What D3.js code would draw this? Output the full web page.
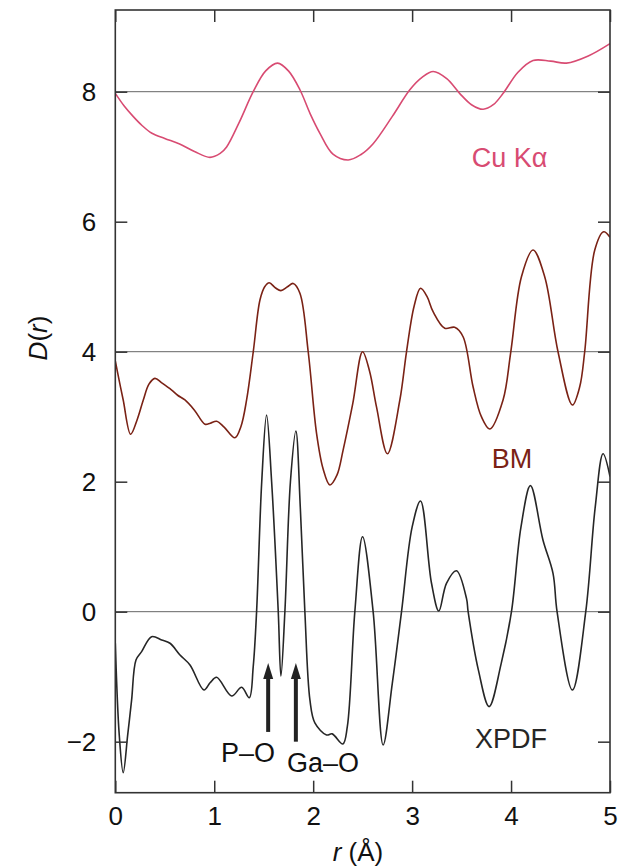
<!DOCTYPE html>
<html><head><meta charset="utf-8">
<script src="https://cdn.jsdelivr.net/npm/d3@7"></script>
<style>body{margin:0;background:#fff}svg{display:block;font-family:"Liberation Sans",Arial,Helvetica,sans-serif}</style>
</head><body><svg id="c" width="624" height="866"></svg>
<script>
// r (Å) and D(r) for each trace
const cuR = [0,0.09,0.18,0.27,0.37,0.5,0.65,0.8,0.957,1.06,1.125,1.25,1.394,1.52,1.64,1.75,1.866,1.97,2.068,2.2,2.354,2.48,2.606,2.8,2.977,3.1,3.213,3.35,3.48,3.6,3.718,3.82,3.92,4.07,4.222,4.4,4.56,4.78,5.0];
const cuD = [7.975,7.78,7.62,7.48,7.36,7.28,7.195,7.08,6.99,7.05,7.15,7.52,8.0,8.32,8.44,8.32,8.03,7.66,7.36,7.04,6.95,7.03,7.2,7.62,8.03,8.22,8.31,8.2,7.975,7.8,7.73,7.8,7.975,8.3,8.48,8.47,8.44,8.55,8.74];
const bmR = [0,0.04,0.08,0.155,0.22,0.283,0.34,0.40,0.47,0.57,0.63,0.704,0.8,0.906,0.96,1.024,1.1,1.209,1.27,1.327,1.394,1.462,1.51,1.556,1.62,1.674,1.74,1.798,1.866,1.95,2.034,2.1,2.169,2.24,2.303,2.4,2.499,2.57,2.64,2.75,2.876,2.943,3.02,3.085,3.15,3.212,3.33,3.43,3.515,3.616,3.7,3.785,3.919,3.997,4.105,4.222,4.34,4.475,4.62,4.694,4.744,4.846,4.936,5.0];
const bmD = [3.86,3.55,3.257,2.73,2.95,3.257,3.5,3.59,3.52,3.41,3.33,3.257,3.1,2.885,2.9,2.93,2.84,2.675,2.85,3.257,3.995,4.795,5.0,5.06,4.98,4.94,5.0,5.05,4.9,3.995,2.745,2.2,1.95,2.1,2.49,3.2,4.0,3.7,3.15,2.43,3.257,3.995,4.7,4.975,4.85,4.615,4.36,4.375,4.23,3.46,3.0,2.81,3.257,3.995,5.154,5.565,5.154,3.995,3.18,3.46,3.995,5.565,5.846,5.76];
const xpR = [0,0.04,0.08,0.125,0.165,0.209,0.266,0.367,0.469,0.553,0.654,0.755,0.896,0.96,1.024,1.176,1.277,1.354,1.394,1.428,1.48,1.529,1.58,1.647,1.674,1.714,1.77,1.825,1.87,1.916,1.967,2.017,2.135,2.192,2.3,2.345,2.421,2.499,2.606,2.707,2.8,2.893,3.0,3.085,3.196,3.27,3.347,3.448,3.55,3.566,3.67,3.778,3.9,4.004,4.1,4.196,4.323,4.424,4.465,4.62,4.755,4.85,4.93,5.0];
const xpD = [-0.486,-1.9,-2.477,-1.9,-1.358,-0.743,-0.615,-0.385,-0.435,-0.486,-0.666,-0.82,-1.205,-1.09,-1.01,-1.297,-1.163,-1.323,-0.846,0,2.0,3.026,2.0,0,-0.99,0,2.0,2.78,1.6,0,-1.358,-1.71,-1.897,-1.88,-2.035,-1.77,0,1.154,0,-2.05,-1.1,0,1.3,1.703,0.437,0.01,0.437,0.63,0.2,0,-0.9,-1.46,-0.8,0,1.3,1.94,1.10,0.59,0,-1.205,0,1.6,2.43,2.08];
const seriesNames = ["Cu Kα","BM","XPDF"];
const baselines = [8,4,0];
const yTicks = [-2,0,2,4,6,8];
const xTicks = [0,1,2,3,4,5];
const annoNames = ["P–O","Ga–O"];
const annoR = [1.545,1.825];
const annoTip = [-0.79,-0.79];
const annoBase = [-1.85,-2.0];

const svg = d3.select("#c");
const L=115.3,R=610,T=10,B=792.7;
const x = d3.scaleLinear().domain([0,5]).range([L,R]);
const y = d3.scaleLinear().domain([-2.785,9.257]).range([B,T]);
const colors = ["#d84b72","#7a2215","#262626"];

svg.append("defs").append("clipPath").attr("id","clip").append("rect").attr("x",L).attr("y",T).attr("width",R-L).attr("height",B-T);

// baselines
svg.selectAll("line.base").data(baselines).enter().append("line")
  .attr("x1",L).attr("x2",R).attr("y1",d=>y(d)).attr("y2",d=>y(d))
  .attr("stroke","#666").attr("stroke-width",1);

const line = d3.line().x(d=>x(d[0])).y(d=>y(d[1])).curve(d3.curveCatmullRom.alpha(0.5));
const data = [d3.zip(cuR,cuD), d3.zip(bmR,bmD), d3.zip(xpR,xpD)];
const g = svg.append("g").attr("clip-path","url(#clip)");
data.forEach((s,i)=>{
  g.append("path").attr("d",line(s)).attr("fill","none").attr("stroke",colors[i]).attr("stroke-width",1.6);
});

// axes (inward ticks)
const tl=12, fs=26;
svg.append("g").attr("transform",`translate(0,${B})`).call(d3.axisBottom(x).tickValues(xTicks).tickSizeInner(-tl).tickSizeOuter(0).tickPadding(14).tickFormat(d3.format("d")))
 .call(a=>{a.select(".domain").remove();a.selectAll("text").attr("font-size",fs).attr("fill","#111");a.selectAll("line").attr("stroke","#333").attr("stroke-width",1.5);});
svg.append("g").attr("transform",`translate(0,${T})`).call(d3.axisTop(x).tickValues(xTicks).tickSizeInner(-tl).tickSizeOuter(0).tickFormat(""))
 .call(a=>{a.select(".domain").remove();a.selectAll("line").attr("stroke","#333").attr("stroke-width",1.5);});
svg.append("g").attr("transform",`translate(${L},0)`).call(d3.axisLeft(y).tickValues(yTicks).tickSizeInner(-tl).tickSizeOuter(0).tickPadding(19).tickFormat(d=>d<0?"−"+Math.abs(d):d))
 .call(a=>{a.select(".domain").remove();a.selectAll("text").attr("font-size",fs).attr("fill","#111");a.selectAll("line").attr("stroke","#333").attr("stroke-width",1.5);});
svg.append("g").attr("transform",`translate(${R},0)`).call(d3.axisRight(y).tickValues(yTicks).tickSizeInner(-tl).tickSizeOuter(0).tickFormat(""))
 .call(a=>{a.select(".domain").remove();a.selectAll("line").attr("stroke","#333").attr("stroke-width",1.5);});
svg.append("rect").attr("x",L).attr("y",T).attr("width",R-L).attr("height",B-T).attr("fill","none").attr("stroke","#333").attr("stroke-width",1.6);

// series labels
const labPos = [[471.7,166.7],[491.7,468],[475,748]];
seriesNames.forEach((n,i)=>{
  svg.append("text").attr("x",labPos[i][0]).attr("y",labPos[i][1]).attr("font-size",27).attr("fill",colors[i]).text(n);
});

// annotations
annoNames.forEach((n,i)=>{
  const tx=x(annoR[i]), ty=y(annoTip[i]);
  svg.append("line").attr("x1",tx).attr("x2",tx).attr("y1",y(annoBase[i])).attr("y2",ty+14)
    .attr("stroke","#222").attr("stroke-width",4);
  svg.append("path").attr("d",`M${tx},${ty} L${tx-5},${ty+16} L${tx+5},${ty+16} Z`).attr("fill","#222");
});
svg.append("text").attr("x",248).attr("y",762).attr("text-anchor","middle").attr("font-size",27).attr("fill","#111").text(annoNames[0]);
svg.append("text").attr("x",323).attr("y",772).attr("text-anchor","middle").attr("font-size",27).attr("fill","#111").text(annoNames[1]);

// axis titles
const xl = svg.append("text").attr("x",358).attr("y",861).attr("text-anchor","middle").attr("font-size",fs).attr("fill","#111");
xl.append("tspan").attr("font-style","italic").text("r");
xl.append("tspan").text(" (Å)");
const yl = svg.append("text").attr("transform","translate(47,338) rotate(-90)").attr("text-anchor","middle").attr("font-size",fs).attr("fill","#111");
yl.append("tspan").attr("font-style","italic").text("D");
yl.append("tspan").text("(");
yl.append("tspan").attr("font-style","italic").text("r");
yl.append("tspan").text(")");
</script></body></html>
